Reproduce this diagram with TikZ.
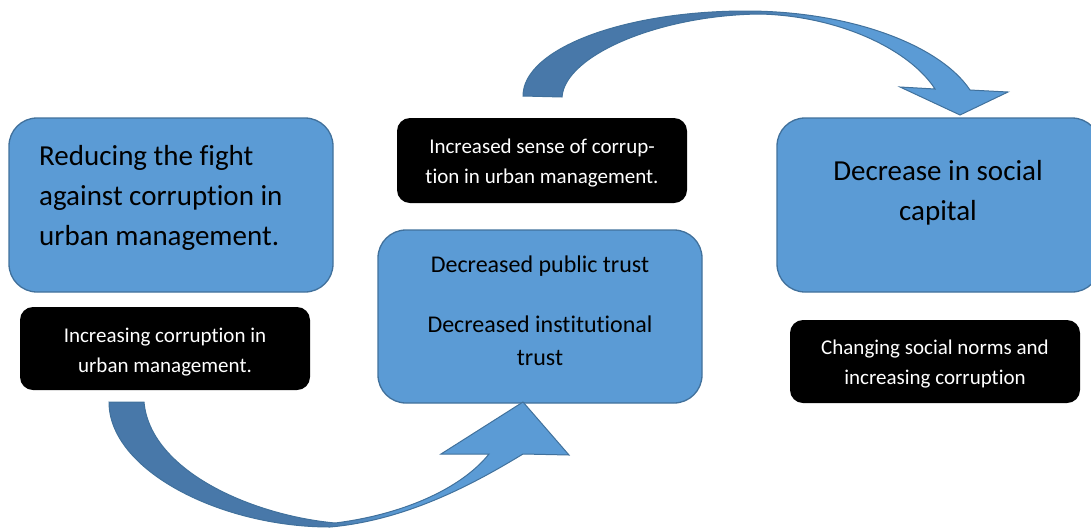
\documentclass[tikz,border=0pt]{standalone}
\usepackage{fontspec}
\setmainfont{Carlito}[Ligatures=NoCommon]
\definecolor{boxblue}{HTML}{5B9BD5}
\definecolor{boxedge}{HTML}{41719C}
\definecolor{arrowdark}{HTML}{4878A9}
\definecolor{arrowlight}{HTML}{5B9BD5}
\pgfdeclarehorizontalshading{arrowshade}{100bp}{color(0bp)=(arrowdark); color(25bp)=(arrowdark); color(48bp)=(arrowdark); color(57bp)=(arrowlight); color(75bp)=(arrowlight); color(100bp)=(arrowlight)}
\tikzset{
  bluebox/.style={rectangle, draw=boxedge, fill=boxblue, line width=1.3pt, rounded corners=28pt, inner sep=0pt},
  blackbox/.style={rectangle, fill=black, rounded corners=13pt, inner sep=0pt},
  bigtext/.style={font=\fontsize{29}{40}\selectfont, inner sep=0pt, text=black},
  midtext/.style={font=\fontsize{24}{33}\selectfont, inner sep=0pt, text=black, align=center},
  smalltext/.style={font=\fontsize{21}{30}\selectfont, inner sep=0pt, text=white, align=center},
  curvedarrow/.style={draw=boxedge, line width=1pt, shading=arrowshade},
}
\begin{document}
\begin{tikzpicture}[x=1pt, y=-1pt]
\useasboundingbox (0,0) rectangle (1091,528);
\clip (0,0) rectangle (1091,528);

% boxes
\node[bluebox, minimum width=324pt, minimum height=174pt] (b1) at (171,205) {};
\node[bluebox, minimum width=324pt, minimum height=173pt] (b2) at (540,316.5) {};
\node[bluebox, minimum width=323pt, minimum height=174pt] (b3) at (938.5,205) {};
\node[blackbox, minimum width=290pt, minimum height=83pt] (k1) at (165,348.5) {};
\node[blackbox, minimum width=290pt, minimum height=85pt] (k2) at (542,160.5) {};
\node[blackbox, minimum width=290pt, minimum height=83pt] (k3) at (935,361.5) {};

% texts (base anchor = baseline of the last line)
\node[bigtext, align=left, anchor=base west] (t1) at (39,245) {Reducing the fight\\against corruption in\\urban management.};
\node[midtext, anchor=base] (t2) at (540,365) {Decreased public trust\\[27pt]Decreased institutional\\trust};
\node[bigtext, align=center, anchor=base] (t3) at (938,220) {Decrease in social\\capital};
\node[smalltext, anchor=base] (s1) at (165,372) {Increasing corruption in\\urban management.};
\node[smalltext, anchor=base] (s2) at (542,183) {Increased sense of corrup-\\tion in urban management.};
\node[smalltext, anchor=base] (s3) at (935,384) {Changing social norms and\\increasing corruption};

% top curved arrow (b2 side -> b3)
\path[curvedarrow] (523,96) .. controls (523,49) and (623,11) .. (746,11)
  .. controls (850,11) and (940,45) .. (970,90) -- (1008,92) -- (960,115) -- (900,87) -- (935,89)
  .. controls (910,50) and (840,16) .. (760,14)
  .. controls (660,15) and (565,55) .. (562,97) -- cycle;

% bottom curved arrow (k1 -> b2)
\path[curvedarrow] (109,402) .. controls (109,470) and (220,527) .. (330,527)
  .. controls (410,520) and (480,480) .. (523,454) -- (569,455) -- (523,402) -- (441,454) -- (489,454)
  .. controls (460,490) and (400,515) .. (335,523)
  .. controls (250,515) and (150,470) .. (144,402) -- cycle;
\end{tikzpicture}
\end{document}
